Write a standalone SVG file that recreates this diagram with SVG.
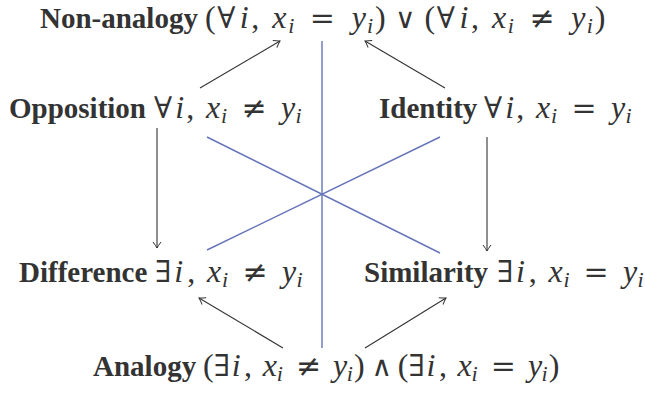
<svg xmlns="http://www.w3.org/2000/svg" width="645" height="396" viewBox="0 0 645 396">
<defs>
<marker id="ah" viewBox="-8 -5 10 10" markerWidth="10" markerHeight="10" refX="0" refY="0" orient="auto" markerUnits="userSpaceOnUse">
<path d="M-6,-4 Q-2,-1 0,0 Q-2,1 -6,4" fill="none" stroke="#333" stroke-width="1"/>
</marker>
<style>
text{font-family:"Liberation Serif","DejaVu Serif",serif;fill:#333;}
.b{font-weight:bold;font-size:29px;}
.v{font-style:italic;font-size:32px;}
.s{font-style:italic;font-size:22px;}
.c{font-size:32px;}
.p{font-size:32px;}
.o{font-family:"DejaVu Serif","Liberation Serif",serif;font-size:30px;}
.w{font-family:"DejaVu Serif","Liberation Serif",serif;font-size:28px;}
.arrow{stroke:#333;stroke-width:1.1;fill:none;marker-end:url(#ah);}
.blue{stroke:#6674b8;stroke-width:1.4;fill:none;}
</style>
</defs>
<g id="connectors">
<line class="blue" x1="322" y1="41" x2="322" y2="348"/>
<line class="blue" x1="207" y1="137" x2="440" y2="253"/>
<line class="blue" x1="440" y1="137" x2="207" y2="250"/>
<line class="arrow" x1="200" y1="88" x2="280" y2="41"/>
<line class="arrow" x1="445" y1="88" x2="365" y2="41"/>
<line class="arrow" x1="157" y1="128" x2="157" y2="248"/>
<line class="arrow" x1="487" y1="137" x2="487" y2="251"/>
<line class="arrow" x1="283" y1="348" x2="199" y2="298"/>
<line class="arrow" x1="365" y1="348" x2="446" y2="298"/>
</g>
<g id="nonanalogy">
<text y="28"><tspan class="b" x="40">Non-analogy</tspan><tspan class="p" x="205">(</tspan><tspan class="o" x="217.2">∀</tspan><tspan class="v" x="239.8">i</tspan><tspan class="c" x="251.3">,</tspan><tspan class="v" x="272.3">x</tspan><tspan class="s" x="288.2" y="33">i</tspan><tspan class="o" x="309.8" y="28">=</tspan><tspan class="v" x="351.7">y</tspan><tspan class="s" x="367.1" y="33">i</tspan><tspan class="p" x="375.1" y="28">)</tspan><tspan class="w" x="395">∨</tspan><tspan class="p" x="424.6">(</tspan><tspan class="o" x="436.8">∀</tspan><tspan class="v" x="459.4">i</tspan><tspan class="c" x="470.9">,</tspan><tspan class="v" x="491.9">x</tspan><tspan class="s" x="507.8" y="33">i</tspan><tspan class="o" x="529.4" y="28">≠</tspan><tspan class="v" x="571.3">y</tspan><tspan class="s" x="586.7" y="33">i</tspan><tspan class="p" x="594.7" y="28">)</tspan></text>
</g>
<g id="opposition">
<text y="118"><tspan class="b" x="9">Opposition</tspan><tspan class="o" x="154">∀</tspan><tspan class="v" x="175.3">i</tspan><tspan class="c" x="186.2">,</tspan><tspan class="v" x="206">x</tspan><tspan class="s" x="221" y="123">i</tspan><tspan class="o" x="241.4" y="118">≠</tspan><tspan class="v" x="280.9">y</tspan><tspan class="s" x="295.4" y="123">i</tspan></text>
</g>
<g id="identity">
<text y="118"><tspan class="b" x="379">Identity</tspan><tspan class="o" x="484">∀</tspan><tspan class="v" x="505.3">i</tspan><tspan class="c" x="516.2">,</tspan><tspan class="v" x="536">x</tspan><tspan class="s" x="551" y="123">i</tspan><tspan class="o" x="571.4" y="118">=</tspan><tspan class="v" x="610.9">y</tspan><tspan class="s" x="625.4" y="123">i</tspan></text>
</g>
<g id="difference">
<text y="282"><tspan class="b" x="19">Difference</tspan><tspan class="o" x="155">∃</tspan><tspan class="v" x="174.2">i</tspan><tspan class="c" x="187.2">,</tspan><tspan class="v" x="207">x</tspan><tspan class="s" x="222" y="287">i</tspan><tspan class="o" x="242.4" y="282">≠</tspan><tspan class="v" x="281.9">y</tspan><tspan class="s" x="296.4" y="287">i</tspan></text>
</g>
<g id="similarity">
<text y="282"><tspan class="b" x="364">Similarity</tspan><tspan class="o" x="497">∃</tspan><tspan class="v" x="516">i</tspan><tspan class="c" x="528.8">,</tspan><tspan class="v" x="548.4">x</tspan><tspan class="s" x="563.4" y="287">i</tspan><tspan class="o" x="583.6" y="282">=</tspan><tspan class="v" x="623">y</tspan><tspan class="s" x="637.4" y="287">i</tspan></text>
</g>
<g id="analogy">
<text y="376"><tspan class="b" x="93">Analogy</tspan><tspan class="p" x="203">(</tspan><tspan class="o" x="213.8">∃</tspan><tspan class="v" x="231.8">i</tspan><tspan class="c" x="244.1">,</tspan><tspan class="v" x="262.7">x</tspan><tspan class="s" x="276.8" y="381">i</tspan><tspan class="o" x="296" y="376">≠</tspan><tspan class="v" x="333.1">y</tspan><tspan class="s" x="346.7" y="381">i</tspan><tspan class="p" x="353.9" y="376">)</tspan><tspan class="w" x="371.4">∧</tspan><tspan class="p" x="397.8">(</tspan><tspan class="o" x="408.6">∃</tspan><tspan class="v" x="426.6">i</tspan><tspan class="c" x="438.9">,</tspan><tspan class="v" x="457.5">x</tspan><tspan class="s" x="471.6" y="381">i</tspan><tspan class="o" x="490.8" y="376">=</tspan><tspan class="v" x="527.9">y</tspan><tspan class="s" x="541.5" y="381">i</tspan><tspan class="p" x="548.7" y="376">)</tspan></text>
</g>
</svg>
